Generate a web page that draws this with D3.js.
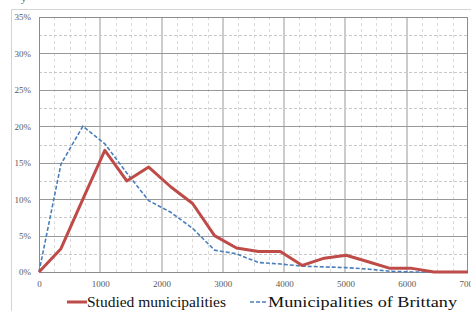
<!DOCTYPE html>
<html>
<head>
<meta charset="utf-8">
<script src="https://cdn.jsdelivr.net/npm/d3@7"></script>
<style>
body { margin: 0; background: #fff; }
svg { display: block; }
svg text { font-family: "Liberation Serif", "Times New Roman", serif; }
</style>
</head>
<body>
<svg width="471" height="311"></svg>
<script>
// data
var xValues = [0, 358, 716, 1074, 1432, 1790, 2148, 2506, 2864, 3222, 3580, 3938, 4296, 4654, 5012, 5370, 5728, 6086, 6444, 6802, 7000]
var studied = [0, 3.2, 10.0, 16.7, 12.5, 14.4, 11.7, 9.4, 5.0, 3.3, 2.8, 2.8, 0.9, 1.9, 2.3, 1.4, 0.5, 0.5, 0, 0, 0]
var brittany = [0, 14.8, 20.0, 17.6, 13.6, 9.8, 8.2, 6.0, 3.0, 2.5, 1.3, 1.1, 0.8, 0.7, 0.6, 0.4, 0.1, 0, 0, 0, 0]
var xTicks = [0, 1000, 2000, 3000, 4000, 5000, 6000, 7000]
var yTicks = [0, 5, 10, 15, 20, 25, 30, 35]
var seriesNames = ["Studied municipalities", "Municipalities of Brittany"]

var serif = "'Liberation Serif', 'Times New Roman', serif"
var plot = {left: 39, right: 468, top: 17, bottom: 272}

var svg = d3.select("svg")

var xScale = d3.scaleLinear().domain([0, 7000]).range([plot.left, plot.right])
var yScale = d3.scaleLinear().domain([0, 35]).range([plot.bottom, plot.top])

// outer chart frame
svg.append("path")
    .attr("d", "M11.5,311 V9.5 H471")
    .attr("fill", "none")
    .attr("stroke", "#d4d4d4")
svg.append("text").attr("x", 21).attr("y", 2).attr("font-family", serif)
    .attr("font-size", 11).attr("fill", "#666").text("y")

var grid = svg.append("g")

// minor vertical dashed lines every 250
var minorX = d3.range(250, 7000, 250).filter(function(d) { return d % 1000 != 0 })
grid.selectAll(".vminor").data(minorX).enter().append("line")
    .attr("x1", function(d) { return Math.round(xScale(d)) + 0.5 })
    .attr("x2", function(d) { return Math.round(xScale(d)) + 0.5 })
    .attr("y1", plot.top).attr("y2", plot.bottom)
    .attr("stroke", "#dadada").attr("stroke-dasharray", "3,3")

// minor horizontal dashed lines every 2.5%
var minorY = d3.range(2.5, 35, 5)
grid.selectAll(".hminor").data(minorY).enter().append("line")
    .attr("x1", plot.left).attr("x2", plot.right)
    .attr("y1", function(d) { return Math.round(yScale(d)) + 0.5 })
    .attr("y2", function(d) { return Math.round(yScale(d)) + 0.5 })
    .attr("stroke", "#c8c8c8").attr("stroke-dasharray", "3,2")

// major vertical lines
grid.selectAll(".vmajor").data(xTicks.slice(1, -1)).enter().append("line")
    .attr("x1", function(d) { return Math.round(xScale(d)) })
    .attr("x2", function(d) { return Math.round(xScale(d)) })
    .attr("y1", plot.top).attr("y2", plot.bottom)
    .attr("stroke", "#cccccc").attr("stroke-width", 2)

// major horizontal lines
grid.selectAll(".hmajor").data(yTicks.slice(1, -1)).enter().append("line")
    .attr("x1", plot.left).attr("x2", plot.right)
    .attr("y1", function(d) { return Math.round(yScale(d)) + 0.5 })
    .attr("y2", function(d) { return Math.round(yScale(d)) + 0.5 })
    .attr("stroke", "#999999")

// plot frame
svg.append("rect")
    .attr("x", plot.left + 0.5).attr("y", plot.top + 0.5)
    .attr("width", plot.right - plot.left - 1).attr("height", plot.bottom - plot.top)
    .attr("fill", "none").attr("stroke", "#8c8c8c")

// axes
var yAxis = d3.axisLeft(yScale).tickValues(yTicks).tickSize(0).tickPadding(8)
    .tickFormat(function(d) { return d + "%" })
var xAxis = d3.axisBottom(xScale).tickValues(xTicks).tickSize(0).tickPadding(9)
    .tickFormat(d3.format("d"))

var ya = svg.append("g").attr("transform", "translate(" + plot.left + ",0)").call(yAxis)
var xa = svg.append("g").attr("transform", "translate(0," + plot.bottom + ")").call(xAxis)
ya.select(".domain").remove()
xa.select(".domain").remove()
ya.attr("font-family", serif)
xa.attr("font-family", serif)
svg.selectAll(".tick text")
    .attr("font-family", serif)
    .attr("font-size", 9)
    .attr("fill", "#595959")

// lines
var line = function(values) {
    return d3.line()
        .x(function(d, i) { return xScale(xValues[i]) })
        .y(function(d) { return yScale(d) })(values)
}

svg.append("path")
    .attr("d", line(brittany))
    .attr("fill", "none")
    .attr("stroke", "#4a7ebb")
    .attr("stroke-width", 1.6)
    .attr("stroke-dasharray", "4,2")

svg.append("path")
    .attr("d", line(studied))
    .attr("fill", "none")
    .attr("stroke", "#be4b48")
    .attr("stroke-width", 3)
    .attr("stroke-linejoin", "round")

// legend
var legend = svg.append("g")
legend.append("line").attr("x1", 67).attr("x2", 87).attr("y1", 302).attr("y2", 302)
    .attr("stroke", "#be4b48").attr("stroke-width", 3)
legend.append("text").attr("x", 87).attr("y", 307).attr("font-family", serif)
    .attr("font-size", 15.5).attr("fill", "#111")
    .attr("textLength", 139).attr("lengthAdjust", "spacingAndGlyphs")
    .text(seriesNames[0])
legend.append("line").attr("x1", 250).attr("x2", 268).attr("y1", 302).attr("y2", 302)
    .attr("stroke", "#4a7ebb").attr("stroke-width", 1.6).attr("stroke-dasharray", "4,2")
legend.append("text").attr("x", 268).attr("y", 307).attr("font-family", serif)
    .attr("font-size", 15.5).attr("fill", "#111")
    .attr("textLength", 189).attr("lengthAdjust", "spacingAndGlyphs")
    .text(seriesNames[1])
</script>
</body>
</html>
